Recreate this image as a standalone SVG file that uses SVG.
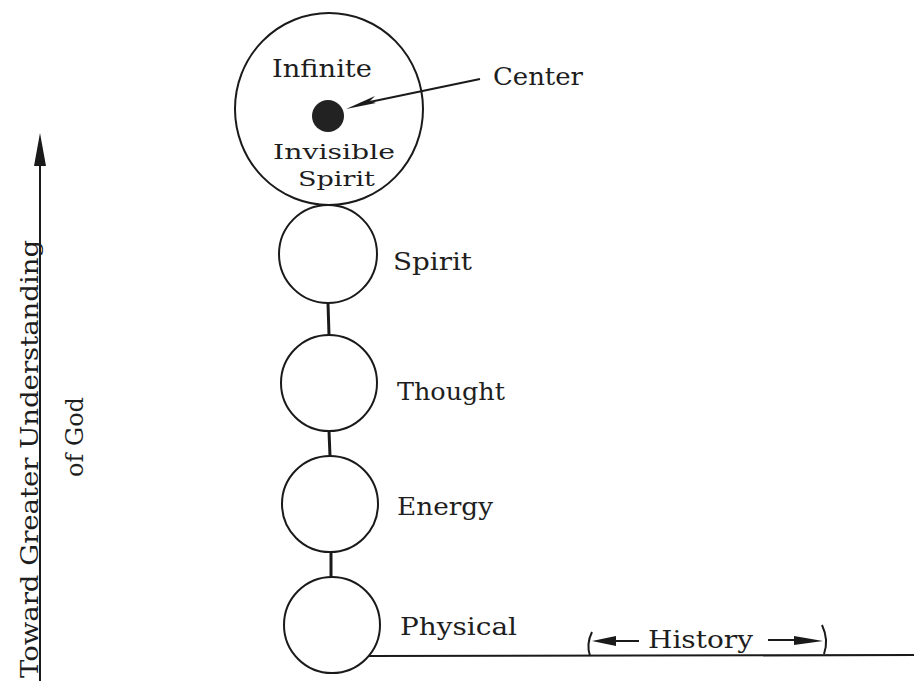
<svg xmlns="http://www.w3.org/2000/svg" width="914" height="681" viewBox="0 0 914 681">
<style>
.lbl{font-family:"DejaVu Serif","Liberation Serif",serif;font-size:24px;fill:#1e1e1e}
.sm{font-size:21px}
.ring{fill:none;stroke:#1a1a1a;stroke-width:2}
.ln{stroke:#1a1a1a;fill:none}
</style>
<rect width="914" height="681" fill="#ffffff"/>
<g id="infinite-spirit">
<ellipse class="ring" cx="329" cy="109" rx="94" ry="96" stroke-width="2.8"/>
<circle cx="328" cy="116" r="16" fill="#222"/>
<text class="lbl" x="272" y="77" textLength="100" lengthAdjust="spacingAndGlyphs">Infinite</text>
<text class="lbl sm" x="273" y="159" textLength="122" lengthAdjust="spacingAndGlyphs">Invisible</text>
<text class="lbl sm" x="298" y="186" textLength="77" lengthAdjust="spacingAndGlyphs">Spirit</text>
</g>
<g id="center-label">
<text class="lbl" x="493" y="85" textLength="90" lengthAdjust="spacingAndGlyphs">Center</text>
</g>
<g id="spirit">
<circle class="ring" cx="328" cy="254" r="49"/>
<text class="lbl" x="393" y="270" textLength="79" lengthAdjust="spacingAndGlyphs">Spirit</text>
</g>
<g id="thought">
<circle class="ring" cx="329" cy="383" r="48"/>
<text class="lbl" x="397" y="400" textLength="108" lengthAdjust="spacingAndGlyphs">Thought</text>
</g>
<g id="energy">
<circle class="ring" cx="330" cy="504" r="48"/>
<text class="lbl" x="397" y="515" textLength="96" lengthAdjust="spacingAndGlyphs">Energy</text>
</g>
<g id="physical">
<circle class="ring" cx="332" cy="625" r="48"/>
<text class="lbl" x="400" y="635" textLength="117" lengthAdjust="spacingAndGlyphs">Physical</text>
</g>
<g id="axis-understanding">
<line class="ln" x1="40" y1="160" x2="40" y2="681" stroke-width="2"/>
<polygon points="40,133 34,166 46,166" fill="#1a1a1a"/>
<text class="lbl" transform="translate(38,678) rotate(-90)" x="0" y="0" textLength="438" lengthAdjust="spacingAndGlyphs">Toward Greater Understanding</text>
<text class="lbl" transform="translate(83,477) rotate(-90)" x="0" y="0" textLength="80" lengthAdjust="spacingAndGlyphs">of God</text>
</g>
<g id="axis-history">
<line class="ln" x1="368" y1="656" x2="914" y2="655" stroke-width="2.2"/>
<path class="ln" d="M592,632 Q586,644 590,656" stroke-width="2"/>
<polygon points="592,641 616,636 616,646" fill="#1a1a1a"/>
<line class="ln" x1="614" y1="641" x2="639" y2="641" stroke-width="2"/>
<text class="lbl" x="648" y="648" textLength="105" lengthAdjust="spacingAndGlyphs">History</text>
<line class="ln" x1="768" y1="640" x2="796" y2="640" stroke-width="2"/>
<polygon points="823,641 794,636 794,645" fill="#1a1a1a"/>
<path class="ln" d="M822,625 Q829,640 824,654" stroke-width="2"/>
</g>
<g id="connectors">
<line class="ln" x1="328" y1="303" x2="329" y2="335" stroke-width="3"/>
<line class="ln" x1="329" y1="431" x2="330" y2="456" stroke-width="3"/>
<line class="ln" x1="331" y1="552" x2="331" y2="577" stroke-width="3"/>
<line class="ln" x1="480" y1="79" x2="360" y2="104" stroke-width="2"/>
<polygon points="346,109 375,96 370,101 376,103" fill="#1a1a1a"/>
</g>
</svg>
